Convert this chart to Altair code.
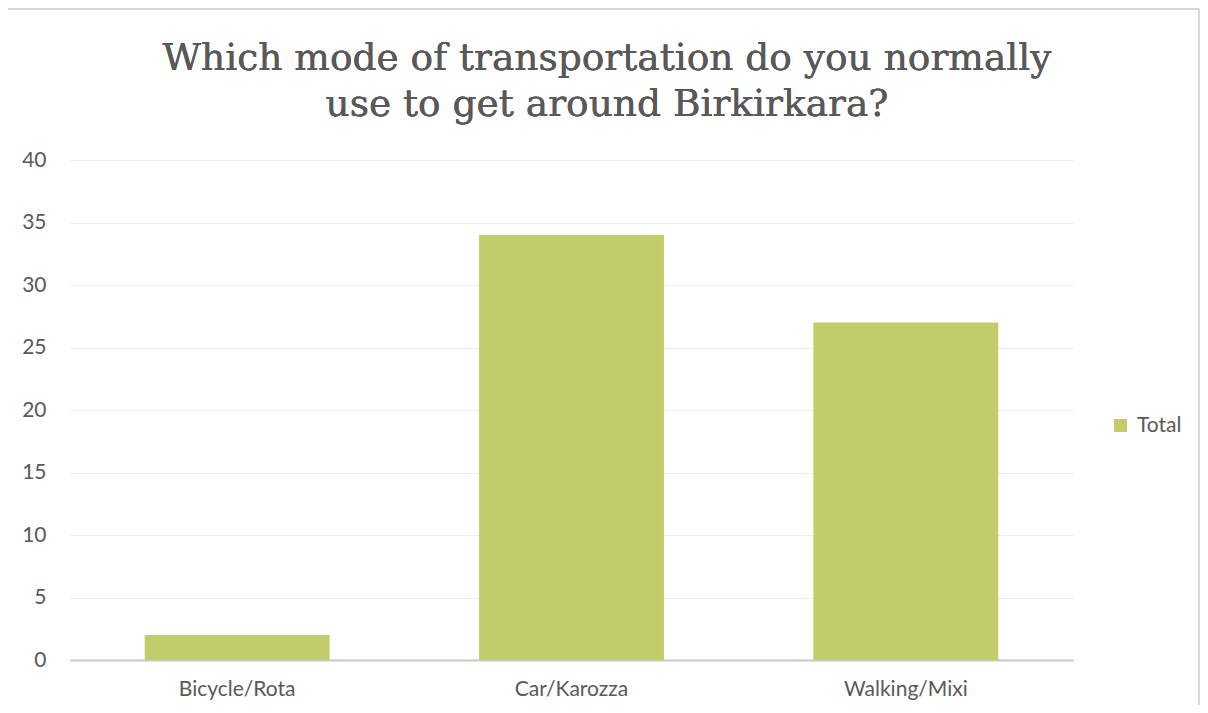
import altair as alt
import pandas as pd

categories = ["Bicycle/Rota", "Car/Karozza", "Walking/Mixi"]
totals = [2, 34, 27]
series = ["Total"] * 3
title_lines = ["Which mode of transportation do you normally", "use to get around Birkirkara?"]

df = pd.DataFrame({"mode": categories, "value": totals, "series": series})

TEXT = "#595959"
GREEN = "#C3CC6A"

bars = alt.Chart(df).mark_bar(color=GREEN).encode(
    x=alt.X("mode:N", sort=categories,
            scale=alt.Scale(paddingInner=0.447, paddingOuter=0.2235),
            axis=alt.Axis(title=None, labelAngle=0, labelFont="Lato", labelFontSize=21,
                          labelColor=TEXT, labelPadding=18, ticks=False,
                          domainColor="#C8C8C8", domainWidth=2, grid=False)),
    y=alt.Y("value:Q", scale=alt.Scale(domain=[0, 40]),
            axis=alt.Axis(title=None, values=list(range(0, 41, 5)), labelFont="Lato",
                          labelFontSize=21, labelColor=TEXT, labelPadding=24,
                          ticks=False, domain=False, gridColor="#EDEDED", gridWidth=1)),
    fill=alt.Fill("series:N", scale=alt.Scale(range=[GREEN]),
                  legend=alt.Legend(title=None, orient="none", legendX=1040, legendY=255,
                                    symbolType="square", symbolSize=170, labelFont="Lato",
                                    labelFontSize=21, labelColor=TEXT, symbolStrokeWidth=0,
                                    labelOffset=6)),
)

frame = alt.Chart(df).mark_rect(fill=None, stroke="#D9D9D9", strokeWidth=1.5, clip=False).encode(
    x=alt.value(-64), x2=alt.value(1129), y=alt.value(-151), y2=alt.value(560)
)

t1 = alt.Chart(df).mark_text(font="DejaVu Serif", fontSize=37.5, color=TEXT, align="center",
                             baseline="alphabetic").encode(
    text=alt.value(title_lines[0]), x=alt.value(537), y=alt.value(-90))
t2 = alt.Chart(df).mark_text(font="DejaVu Serif", fontSize=37.5, color=TEXT, align="center",
                             baseline="alphabetic").encode(
    text=alt.value(title_lines[1]), x=alt.value(537), y=alt.value(-44))

chart = alt.layer(frame, bars, t1, t2).properties(
    width=1003, height=500,
    autosize=alt.AutoSizeParams(type="none"),
    padding={"left": 62, "top": 152, "right": 127, "bottom": 45},
).configure_view(stroke=None)

chart.save("out.html", embed_options={"renderer": "svg", "actions": False})
